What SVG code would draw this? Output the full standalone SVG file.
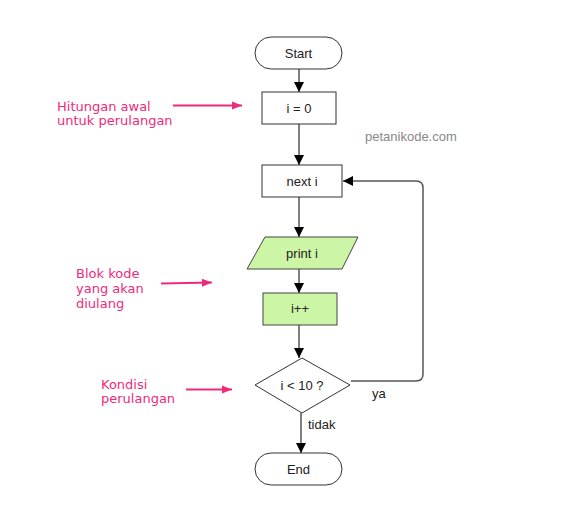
<svg xmlns="http://www.w3.org/2000/svg" width="579" height="531" viewBox="0 0 579 531">
<defs>
<marker id="ah" viewBox="0 0 10 10" refX="10" refY="5" markerWidth="10" markerHeight="10" markerUnits="userSpaceOnUse" orient="auto"><path d="M0,0 L10,5 L0,10 Z" fill="#000"/></marker>
<marker id="ap" viewBox="0 0 10 10" refX="10" refY="5" markerWidth="12" markerHeight="10" markerUnits="userSpaceOnUse" orient="auto"><path d="M0,1 L10,5 L0,9 Z" fill="#ee2a7b"/></marker>
<style>
.n{fill:#fff;stroke:#333;stroke-width:1}
.g{fill:#cdf5a6;stroke:#444;stroke-width:1}
.t{font-family:"Liberation Sans",Arial,sans-serif;font-size:13px;fill:#222;text-anchor:middle}
.l{font-family:"Liberation Sans",Arial,sans-serif;font-size:13px;fill:#222}
.c{fill:none;stroke:#555;stroke-width:1.5;marker-end:url(#ah)}
.p{font-family:"DejaVu Sans",sans-serif;font-size:13px;fill:#ee2a7b}
.pa{fill:none;stroke:#ee2a7b;stroke-width:2;marker-end:url(#ap)}
</style>
</defs>
<rect width="579" height="531" fill="#fff"/>
<g id="connectors">
<path class="c" d="M299,69 V92"/>
<path class="c" d="M299,124 V165"/>
<path class="c" d="M299,197 V237"/>
<path class="c" d="M299,269 V293"/>
<path class="c" d="M299,325 V358"/>
<path class="c" d="M301,413 V453"/>
<path class="c" d="M351,381 H416 Q423,381 423,374 V188 Q423,181 416,181 H343"/>
</g>
<g id="start"><rect class="n" x="255" y="37" width="87" height="32" rx="16"/><text class="t" x="298.5" y="57.5">Start</text></g>
<g id="init"><rect class="n" x="262" y="92" width="74" height="32"/><text class="t" x="299" y="112.5">i = 0</text></g>
<g id="next"><rect class="n" x="262" y="165" width="80" height="32"/><text class="t" x="302" y="185.5">next i</text></g>
<g id="print"><polygon class="g" points="265,237 358,237 342,269 247,269"/><text class="t" x="302" y="257.5">print i</text></g>
<g id="inc"><rect class="g" x="263" y="293" width="74" height="32"/><text class="t" x="300" y="313">i++</text></g>
<g id="cond"><polygon class="n" points="302,358 350,385 302,413 255,385"/><text class="t" x="302" y="389.5">i &lt; 10 ?</text></g>
<g id="end"><rect class="n" x="255" y="453" width="87" height="32" rx="16"/><text class="t" x="298.5" y="473.5">End</text></g>
<text class="l" x="372" y="398">ya</text>
<text class="l" x="308" y="429">tidak</text>
<text class="l" x="365" y="141" fill="#888" style="fill:#888">petanikode.com</text>
<g id="note1"><text class="p" x="57" y="111">Hitungan awal</text><text class="p" x="57" y="125">untuk perulangan</text><path class="pa" d="M173,105.5 H242"/></g>
<g id="note2"><text class="p" x="76" y="278">Blok kode</text><text class="p" x="76" y="293">yang akan</text><text class="p" x="76" y="308">diulang</text><path class="pa" d="M161,283.5 L212,282.5"/></g>
<g id="note3"><text class="p" x="101" y="389">Kondisi</text><text class="p" x="101" y="403">perulangan</text><path class="pa" d="M186,389.5 H232"/></g>
</svg>
